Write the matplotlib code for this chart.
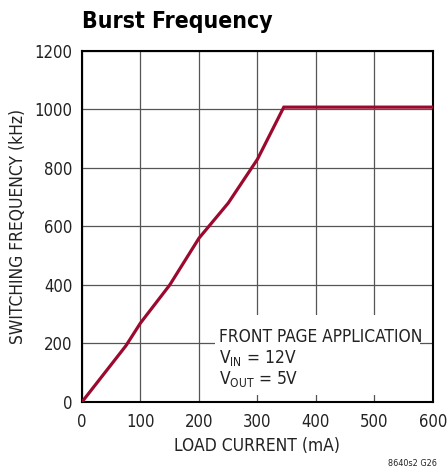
import matplotlib
matplotlib.use("Agg")
from matplotlib import pyplot as plt
from matplotlib.patches import Rectangle

plt.rcParams['font.family'] = ['DejaVu Sans']
plt.rcParams['font.stretch'] = 'condensed'

# load current (mA) vs switching frequency (kHz)
load_ma = [0, 75, 100, 150, 200, 250, 300, 345, 600]
freq_khz = [0, 192, 270, 400, 560, 680, 830, 1008, 1008]

x_ticks = [0, 100, 200, 300, 400, 500, 600]
y_ticks = [0, 200, 400, 600, 800, 1000, 1200]

fig = plt.figure(figsize=(4.47, 4.69), dpi=100)
ax = fig.add_axes([0.1834, 0.1429, 0.7852, 0.7484])

ax.plot(load_ma, freq_khz, color="#9b0a2e", lw=2.3, solid_joinstyle="miter", zorder=3)

ax.set_xlim(0, 600)
ax.set_ylim(0, 1200)
ax.set_xticks(x_ticks)
ax.set_yticks(y_ticks)
ax.grid(True, color="#555555", lw=0.9)
ax.tick_params(length=0, labelsize=12, colors="#222222")
ax.tick_params(axis="x", pad=8)
ax.tick_params(axis="y", pad=7)
for s in ax.spines.values():
    s.set_linewidth(1.5)
    s.set_color("black")

ax.set_xlabel("LOAD CURRENT (mA)", fontsize=12.5, color="#222222", labelpad=4)
ax.set_ylabel("SWITCHING FREQUENCY (kHz)", fontsize=12.5, color="#222222", labelpad=5)

# white box behind the note, hides the grid
ax.add_patch(Rectangle((227, 24), 351, 273, facecolor="white", edgecolor="none", zorder=2.5))
note = ["FRONT PAGE APPLICATION", "$\\mathregular{V_{IN}}$ = 12V", "$\\mathregular{V_{OUT}}$ = 5V"]
for i, t in enumerate(note):
    ax.text(234, 206 - i * 72, t, fontsize=12.4, color="#222222", va="baseline", ha="left", zorder=4)

fig.text(0.1834, 0.941, "Burst Frequency", fontsize=16.5, fontweight="bold", ha="left", va="baseline")
fig.text(0.978, 0.003, "8640s2 G26", fontsize=6.5, ha="right", va="bottom", color="#222222")

fig.savefig("out.png", dpi=100)
